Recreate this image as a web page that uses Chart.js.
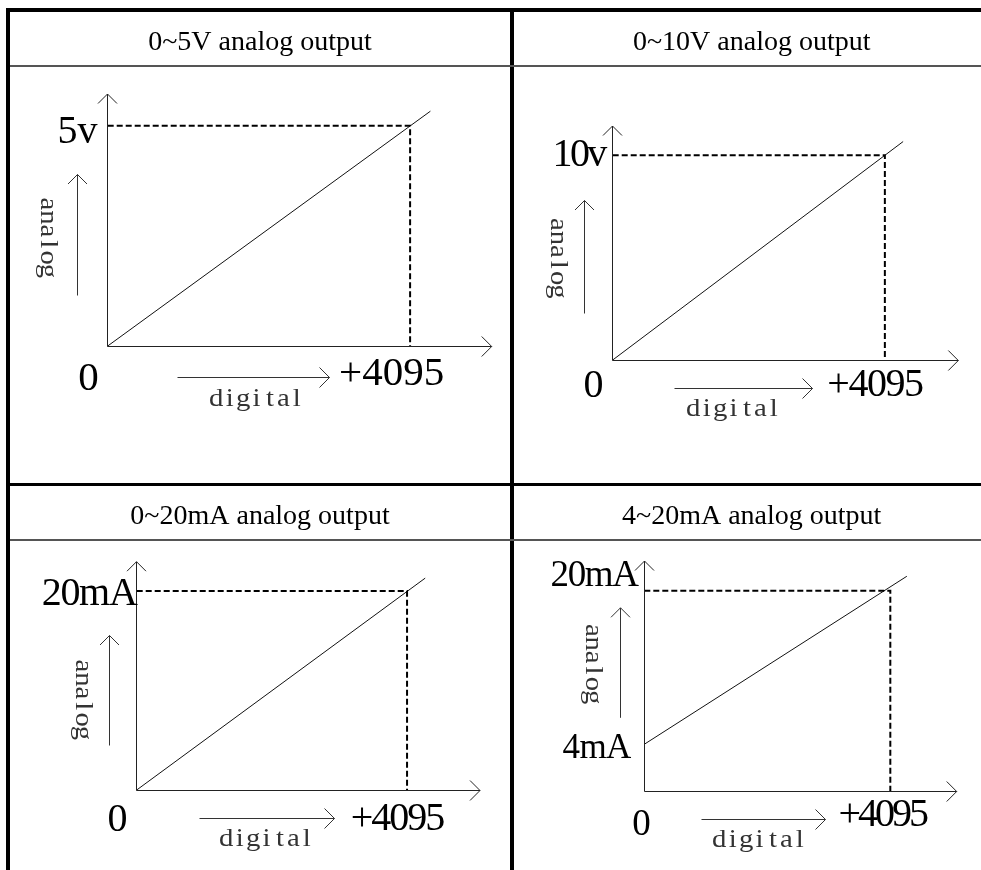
<!DOCTYPE html>
<html>
<head>
<meta charset="utf-8">
<script src="https://cdn.jsdelivr.net/npm/chart.js@4.4.1/dist/chart.umd.min.js"></script>
<style>
  body { margin: 0; background: #fff; width: 981px; height: 870px; overflow: hidden; position: relative; }
  .ln { position: absolute; background: #000; }
  .thin { background: #555; }
  canvas { position: absolute; left: 0; top: 0; }
</style>
</head>
<body>
<!-- table frame -->
<div class="ln" style="left:6px;top:8px;width:975px;height:4px"></div>
<div class="ln" style="left:6px;top:8px;width:4px;height:862px"></div>
<div class="ln" style="left:510px;top:8px;width:4px;height:862px"></div>
<div class="ln" style="left:6px;top:483px;width:975px;height:3px"></div>
<div class="ln thin" style="left:10px;top:65px;width:971px;height:2px"></div>
<div class="ln thin" style="left:10px;top:539px;width:971px;height:2px"></div>

<script>
// data
const titles = ['0~5V analog output', '0~10V analog output', '0~20mA analog output', '4~20mA analog output'];
const fullLabels = ['5v', '10v', '20mA', '20mA'];
const startLabels = [null, null, null, '4mA'];
const analogFull = [5, 10, 20, 20];
const analogStart = [0, 0, 0, 4];
const digitalFull = 4095;
const digitalLabel = '+4095';
const originLabel = '0';
const lineEndDigital = 4370;             // the line runs a bit past full scale
const lineEndAnalog = [5.33, 10.67, 21.3, 21.5];
const xName = 'digital';
const yName = 'analog';

// axis extents (arrow tips) and layout
const digitalMax = 5200;
const analogMin = [0, 0, 0, -0.94];
const analogMax = [5.72, 11.43, 22.95, 23.09];

const W = 981, H = 870;
const frames = [
  { ox: 107.7, oy: 346,   tipX: 491.7, tipY: 94,    title: [260, 49.5] },
  { ox: 612.7, oy: 360,   tipX: 958.3, tipY: 126,   title: [751.7, 49.5] },
  { ox: 136.7, oy: 790,   tipX: 480,   tipY: 561.7, title: [260, 524.3] },
  { ox: 644.3, oy: 791.7, tipX: 956.7, tipY: 561,   title: [751.7, 524.3] }
];
const marks = [
  { zero: [-19, 30, 41], full: [-18.5, 25, 41, 0], yl: [10, 4, 40, 0], sl: null,
    dArrow: [30.7, 70, 222], dText: [149, 54], aArrow: [-30, -51, -172], aText: [-61, -109] },
  { zero: [-19, 23, 40], full: [-10, 22, 40, -1.5], yl: [8, -3, 40, -2.7], sl: null,
    dArrow: [28.3, 62, 200], dText: [121, 50], aArrow: [-28.4, -47, -160], aText: [-56, -102.5] },
  { zero: [-19, 27, 40], full: [-10, 26, 40, -2], yl: [0, 1, 40, -1.3], sl: null,
    dArrow: [27.7, 63, 198], dText: [130, 50], aArrow: [-27.4, -45, -155], aText: [-55, -91] },
  { zero: [-3, 31, 37], full: [-8, 21, 40, -3], yl: [7, -17, 37, -1.4], sl: [14, 2, 35, -0.7],
    dArrow: [27.6, 57, 181], dText: [115, 50], aArrow: [-24.3, -73.7, -183.7], aText: [-52.6, -127.7] }
];

const crisp = v => Math.round(v - 0.5) + 0.5;

function seg(ctx, x1, y1, x2, y2) {
  ctx.beginPath(); ctx.moveTo(x1, y1); ctx.lineTo(x2, y2); ctx.stroke();
}
function headRight(ctx, x, y) {
  ctx.beginPath(); ctx.moveTo(x - 10, y - 10); ctx.lineTo(x, y); ctx.lineTo(x - 10, y + 10); ctx.stroke();
}
function headUp(ctx, x, y) {
  ctx.beginPath(); ctx.moveTo(x - 9.5, y + 9.5); ctx.lineTo(x, y); ctx.lineTo(x + 9.5, y + 9.5); ctx.stroke();
}
// serif label, cx/cy = visual centre of digits / capitals
function serif(ctx, str, x, cy, size, ls, align) {
  ctx.font = size + 'px "Liberation Serif", "Times New Roman", serif';
  ctx.letterSpacing = (ls || 0) + 'px';
  ctx.textAlign = align;
  ctx.textBaseline = 'alphabetic';
  ctx.fillText(str, x, cy + size * 0.335);
}
// serif glyphs set on a fixed grid, like the SimSun half-width letters
function gridText(ctx, str, cx, cy) {
  const cell = 13.4, size = 25;
  ctx.font = size + 'px "Liberation Serif", serif';
  ctx.letterSpacing = '0px';
  ctx.textAlign = 'center';
  ctx.textBaseline = 'alphabetic';
  const start = cx - (str.length * cell) / 2 + cell / 2;
  for (let k = 0; k < str.length; k++) {
    ctx.save();
    ctx.translate(start + k * cell, cy + size * 0.233);
    ctx.scale(1.15, 1);
    ctx.fillText(str[k], 0, 0);
    ctx.restore();
  }
}

function diagram(i) {
  return {
    id: 'diagram' + i,
    afterDatasetsDraw(chart) {
      const { ctx, scales: { x, y } } = chart;
      const m = marks[i], f = frames[i];
      const ox = crisp(x.getPixelForValue(0));
      const oy = crisp(y.getPixelForValue(analogMin[i]));
      const tx = x.getPixelForValue(digitalMax);
      const ty = y.getPixelForValue(analogMax[i]);
      ctx.save();
      ctx.strokeStyle = '#222';
      ctx.fillStyle = '#000';
      ctx.lineWidth = 1;

      // axes
      seg(ctx, ox, oy, tx, oy); headRight(ctx, tx, oy);
      seg(ctx, ox, oy, ox, ty); headUp(ctx, ox, ty);

      // title
      serif(ctx, titles[i], f.title[0], f.title[1] - 28 * 0.335, 28, 0, 'center');

      // tick-like labels
      serif(ctx, originLabel, ox + m.zero[0], oy + m.zero[1], m.zero[2], 0, 'center');
      const fx = x.getPixelForValue(digitalFull);
      serif(ctx, digitalLabel, fx + m.full[0], oy + m.full[1], m.full[2], m.full[3], 'center');
      const fy = y.getPixelForValue(analogFull[i]);
      serif(ctx, fullLabels[i], ox - m.yl[0], fy + m.yl[1], m.yl[2], m.yl[3], 'right');
      if (startLabels[i] && m.sl) {
        const sy = y.getPixelForValue(analogStart[i]);
        serif(ctx, startLabels[i], ox - m.sl[0], sy + m.sl[1], m.sl[2], m.sl[3], 'right');
      }

      // direction arrows
      ctx.strokeStyle = '#333';
      const dy = crisp(oy + m.dArrow[0]);
      seg(ctx, ox + m.dArrow[1], dy, ox + m.dArrow[2], dy); headRight(ctx, ox + m.dArrow[2], dy);
      const ax = crisp(ox + m.aArrow[0]);
      seg(ctx, ax, oy + m.aArrow[1], ax, oy + m.aArrow[2]); headUp(ctx, ax, oy + m.aArrow[2]);

      // axis names
      ctx.fillStyle = '#333';
      gridText(ctx, xName, ox + m.dText[0], oy + m.dText[1]);
      ctx.save();
      ctx.translate(ox + m.aText[0], oy + m.aText[1]);
      ctx.rotate(Math.PI / 2);
      gridText(ctx, yName, 0, 0);
      ctx.restore();

      ctx.restore();
    }
  };
}

for (let i = 0; i < titles.length; i++) {
  const f = frames[i];
  const canvas = document.createElement('canvas');
  canvas.width = W;
  canvas.height = H;
  document.body.appendChild(canvas);

  new Chart(canvas.getContext('2d'), {
    type: 'scatter',
    data: {
      datasets: [
        {
          label: 'full scale',
          data: [
            { x: 0, y: analogFull[i] },
            { x: digitalFull, y: analogFull[i] },
            { x: digitalFull, y: analogMin[i] }
          ],
          showLine: true,
          borderColor: '#000',
          borderWidth: 2,
          borderDash: [6, 3],
          pointRadius: 0,
          clip: false
        },
        {
          label: 'output',
          data: [
            { x: 0, y: analogStart[i] },
            { x: lineEndDigital, y: lineEndAnalog[i] }
          ],
          showLine: true,
          borderColor: '#111',
          borderWidth: 1,
          pointRadius: 0,
          clip: false
        }
      ]
    },
    options: {
      responsive: false,
      animation: false,
      events: [],
      layout: { padding: { left: f.ox, top: f.tipY, right: W - f.tipX, bottom: H - f.oy } },
      plugins: { legend: { display: false }, tooltip: { enabled: false }, title: { display: false } },
      scales: {
        x: { type: 'linear', display: false, min: 0, max: digitalMax },
        y: { type: 'linear', display: false, min: analogMin[i], max: analogMax[i] }
      }
    },
    plugins: [diagram(i)]
  });
}
</script>
</body>
</html>
